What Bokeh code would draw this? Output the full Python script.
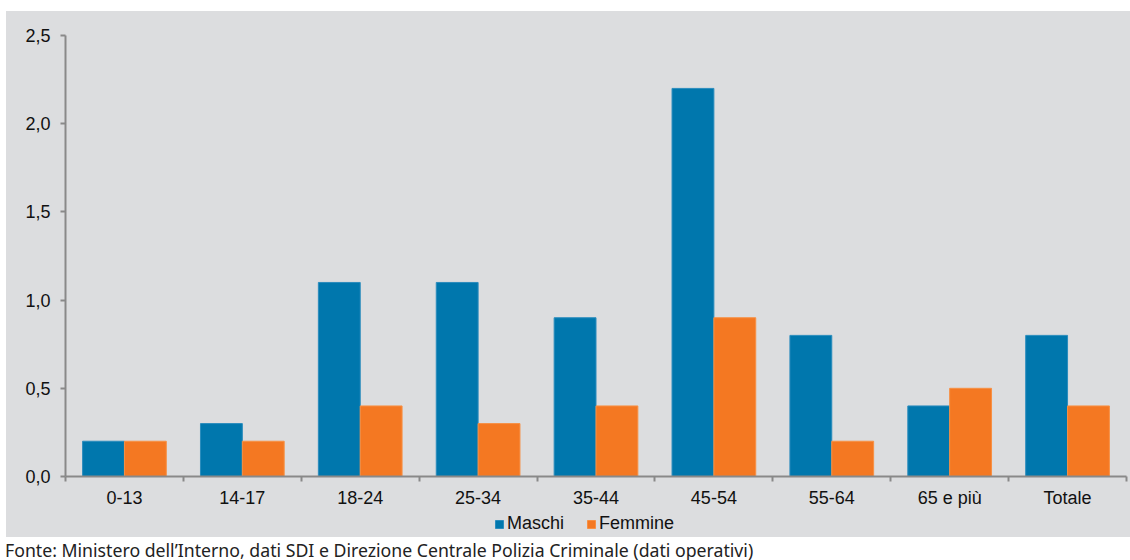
from bokeh.plotting import figure
from bokeh.models import (FixedTicker, CustomJSTickFormatter, Legend, LegendItem,
                          ColumnDataSource, Range1d, Div, Spacer)
from bokeh.layouts import column, row
from bokeh.embed import file_html
from bokeh.resources import INLINE

# ---- data ----
categories = ["0-13", "14-17", "18-24", "25-34", "35-44", "45-54", "55-64", "65 e più", "Totale"]
maschi = [0.2, 0.3, 1.1, 1.1, 0.9, 2.2, 0.8, 0.4, 0.8]
femmine = [0.2, 0.2, 0.4, 0.3, 0.4, 0.9, 0.2, 0.5, 0.4]
y_ticks = [0.0, 0.5, 1.0, 1.5, 2.0, 2.5]
series_names = ["Maschi", "Femmine"]
source_note = "Fonte: Ministero dell\u2019Interno, dati SDI e Direzione Centrale Polizia Criminale (dati operativi)"

# ---- style ----
BLUE = "#0077ad"
ORANGE = "#f47822"
BLUE_EDGE = "#2a8cbd"
ORANGE_EDGE = "#f79044"
BG = "#dcdddf"
AXIS = "#898989"
TXT = "#111111"
FONT = "Liberation Sans"

W = 1124          # grey panel width
H_CHART = 500     # chart part of the grey panel
H_LEG = 26        # legend strip of the grey panel

n = len(categories)
centers = [i + 0.5 for i in range(n)]
bw = 0.355
src = ColumnDataSource(dict(
    xm=[c - bw / 2 for c in centers],
    xf=[c + bw / 2 for c in centers],
    m=maschi,
    f=femmine,
))

p = figure(width=W, height=H_CHART, x_range=Range1d(0, n), y_range=Range1d(0, 2.5),
           output_backend="svg", toolbar_location=None,
           background_fill_color=BG, border_fill_color=BG,
           min_border_left=59, min_border_right=4, min_border_top=24, min_border_bottom=35)
p.outline_line_color = None
p.grid.visible = False

rm = p.vbar(x="xm", top="m", bottom=0, width=bw, source=src,
            fill_color=BLUE, line_color=BLUE_EDGE, line_width=1)
rf = p.vbar(x="xf", top="f", bottom=0, width=bw, source=src,
            fill_color=ORANGE, line_color=ORANGE_EDGE, line_width=1)

# x axis: labels at centers, ticks at category boundaries
xa = p.xaxis[0]
xa.ticker = FixedTicker(ticks=centers, minor_ticks=list(range(n + 1)))
xa.formatter = CustomJSTickFormatter(args=dict(cats=categories),
                                     code="return cats[Math.floor(tick)];")
xa.major_tick_line_color = None
xa.major_tick_out = 0
xa.major_tick_in = 0
xa.minor_tick_line_color = AXIS
xa.minor_tick_line_width = 2
xa.minor_tick_out = 5
xa.minor_tick_in = 0
xa.axis_line_color = AXIS
xa.axis_line_width = 2
xa.major_label_standoff = 6
xa.major_label_text_font = FONT
xa.major_label_text_font_size = "18px"
xa.major_label_text_color = TXT

ya = p.yaxis[0]
ya.ticker = FixedTicker(ticks=y_ticks, minor_ticks=[])
ya.formatter = CustomJSTickFormatter(code="return tick.toFixed(1).replace('.', ',');")
ya.major_tick_line_color = AXIS
ya.major_tick_line_width = 2
ya.major_tick_out = 5
ya.major_tick_in = 0
ya.minor_tick_line_color = None
ya.axis_line_color = AXIS
ya.axis_line_width = 2
ya.major_label_standoff = 10
ya.major_label_text_font = FONT
ya.major_label_text_font_size = "18px"
ya.major_label_text_color = TXT

# legend strip (separate small plot so the legend sits below the axis labels);
# its proxy renderers use the same data but lie outside this strip's view
pl = figure(width=W, height=H_LEG, x_range=Range1d(-3, -2), y_range=Range1d(10, 11),
            output_backend="svg", toolbar_location=None,
            x_axis_location=None, y_axis_location=None,
            background_fill_color=BG, border_fill_color=BG, min_border=0)
pl.outline_line_color = None
pl.grid.visible = False
lm = pl.vbar(x="xm", top="m", bottom=0, width=bw, source=src,
             fill_color=BLUE, line_color=BLUE_EDGE)
lf = pl.vbar(x="xf", top="f", bottom=0, width=bw, source=src,
             fill_color=ORANGE, line_color=ORANGE_EDGE)
legend = Legend(items=[LegendItem(label=series_names[0], renderers=[lm]),
                       LegendItem(label=series_names[1], renderers=[lf])],
                orientation="horizontal", location=(429, 3),
                glyph_width=10, glyph_height=10, label_standoff=3, spacing=22,
                padding=0, margin=0, background_fill_alpha=0, border_line_color=None,
                label_text_font=FONT, label_text_font_size="18px", label_text_color=TXT)
pl.add_layout(legend, "center")

note = Div(text=source_note, width=1130, height=22,
           styles={"font-family": "'Liberation Sans Narrow', 'Noto Sans Condensed', 'Noto Sans', sans-serif",
                   "font-stretch": "condensed",
                   "font-size": "17.7px", "line-height": "17px", "color": "#222222",
                   "white-space": "nowrap", "background-color": "white"})

grey_panel = column(p, pl, spacing=0, styles={"background-color": BG})
layout = column(Spacer(width=1130, height=11),
                row(Spacer(width=6, height=H_CHART + H_LEG), grey_panel, spacing=0),
                note, spacing=0)
open("out.html", "w").write(file_html(layout, INLINE))
